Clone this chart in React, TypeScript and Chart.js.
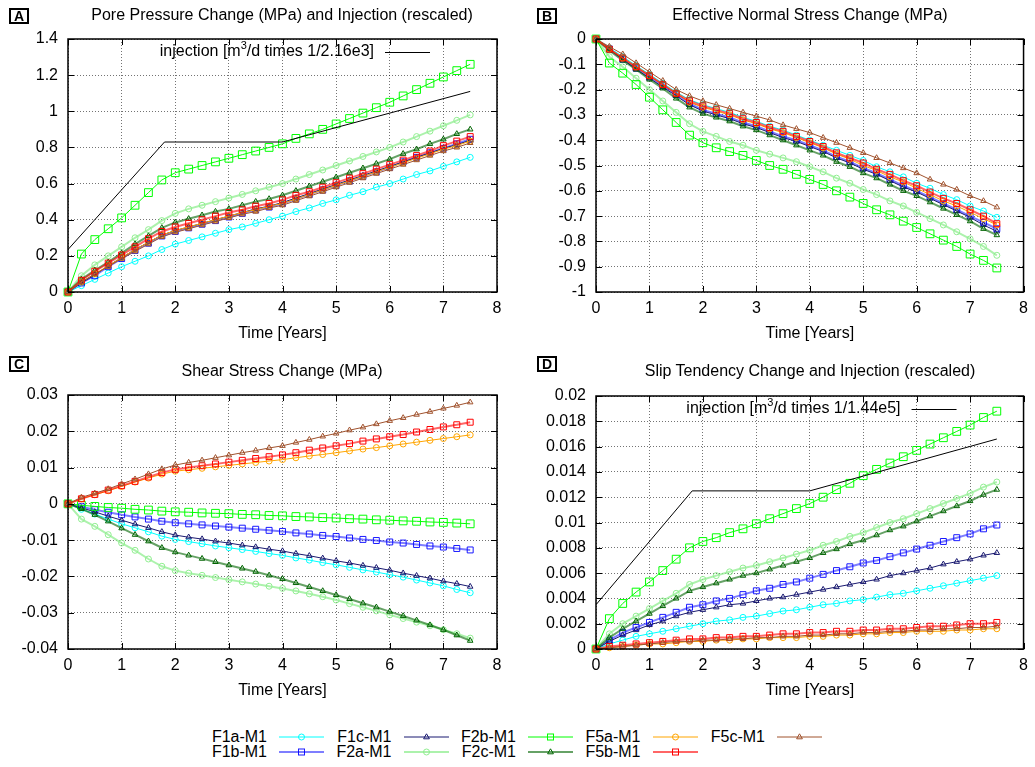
import React, { useEffect, useRef } from "react";
import { Chart, registerables } from "chart.js";

Chart.register(...registerables);

const FONT = "'Liberation Sans', Arial, Helvetica, sans-serif";
const GRID = "rgba(0,0,0,0.55)";

// ---------- data ----------
const years = [0, 0.25, 0.5, 0.75, 1, 1.25, 1.5, 1.75, 2, 2.25, 2.5, 2.75, 3, 3.25, 3.5, 3.75, 4, 4.25, 4.5, 4.75, 5, 5.25, 5.5, 5.75, 6, 6.25, 6.5, 6.75, 7, 7.25, 7.5];
const xTicks = [0, 1, 2, 3, 4, 5, 6, 7, 8];

const faultNames = ["F1a-M1", "F1b-M1", "F1c-M1", "F2a-M1", "F2b-M1", "F2c-M1", "F5a-M1", "F5b-M1", "F5c-M1"];

const injYears = [0, 1.8, 4, 7.5];
const injPore = [0.235, 0.83, 0.83, 1.11];
const injSlip = [0.0035, 0.0125, 0.0125, 0.0166];

// A: Pore pressure change (MPa)
const yTicksPore = [0, 0.2, 0.4, 0.6, 0.8, 1, 1.2, 1.4];
const pore_F1a = [0, 0.035, 0.07, 0.105, 0.14, 0.17, 0.2, 0.235, 0.265, 0.285, 0.305, 0.325, 0.345, 0.36, 0.38, 0.4, 0.42, 0.445, 0.465, 0.49, 0.51, 0.535, 0.555, 0.58, 0.6, 0.625, 0.65, 0.67, 0.695, 0.72, 0.745];
const pore_F1b = [0, 0.05, 0.09, 0.14, 0.185, 0.23, 0.27, 0.31, 0.335, 0.355, 0.375, 0.395, 0.415, 0.435, 0.455, 0.47, 0.49, 0.515, 0.54, 0.565, 0.59, 0.615, 0.64, 0.665, 0.69, 0.72, 0.745, 0.77, 0.795, 0.82, 0.845];
const pore_F1c = [0, 0.05, 0.095, 0.145, 0.19, 0.235, 0.275, 0.315, 0.34, 0.36, 0.38, 0.4, 0.42, 0.44, 0.46, 0.475, 0.495, 0.52, 0.545, 0.57, 0.595, 0.62, 0.645, 0.67, 0.695, 0.72, 0.745, 0.77, 0.795, 0.815, 0.84];
const pore_F2a = [0, 0.09, 0.15, 0.2, 0.25, 0.3, 0.345, 0.395, 0.435, 0.46, 0.48, 0.5, 0.52, 0.54, 0.56, 0.58, 0.6, 0.625, 0.65, 0.675, 0.7, 0.725, 0.75, 0.775, 0.8, 0.83, 0.86, 0.89, 0.92, 0.95, 0.98];
const pore_F2b = [0, 0.21, 0.29, 0.35, 0.41, 0.48, 0.55, 0.62, 0.66, 0.68, 0.7, 0.72, 0.74, 0.76, 0.78, 0.8, 0.82, 0.85, 0.875, 0.9, 0.93, 0.96, 0.99, 1.02, 1.05, 1.085, 1.12, 1.155, 1.19, 1.225, 1.26];
const pore_F2c = [0, 0.07, 0.12, 0.165, 0.215, 0.265, 0.31, 0.355, 0.385, 0.405, 0.425, 0.445, 0.46, 0.48, 0.5, 0.515, 0.535, 0.56, 0.585, 0.61, 0.635, 0.66, 0.685, 0.71, 0.735, 0.765, 0.79, 0.82, 0.845, 0.875, 0.9];
const pore_F5a = [0, 0.055, 0.1, 0.145, 0.19, 0.235, 0.275, 0.315, 0.34, 0.36, 0.38, 0.4, 0.42, 0.44, 0.455, 0.475, 0.49, 0.515, 0.54, 0.565, 0.59, 0.615, 0.64, 0.665, 0.69, 0.715, 0.74, 0.765, 0.79, 0.81, 0.835];
const pore_F5b = [0, 0.065, 0.115, 0.16, 0.205, 0.25, 0.295, 0.335, 0.36, 0.38, 0.4, 0.42, 0.44, 0.455, 0.475, 0.49, 0.51, 0.535, 0.555, 0.58, 0.605, 0.63, 0.655, 0.68, 0.705, 0.73, 0.755, 0.78, 0.81, 0.835, 0.86];
const pore_F5c = [0, 0.055, 0.1, 0.14, 0.185, 0.225, 0.265, 0.305, 0.33, 0.35, 0.37, 0.39, 0.41, 0.43, 0.445, 0.465, 0.48, 0.505, 0.53, 0.555, 0.58, 0.605, 0.63, 0.655, 0.68, 0.705, 0.73, 0.755, 0.78, 0.8, 0.825];

// B: Effective normal stress change (MPa)
const yTicksNormal = [-1, -0.9, -0.8, -0.7, -0.6, -0.5, -0.4, -0.3, -0.2, -0.1, 0];
const norm_F1a = [0, -0.035, -0.07, -0.105, -0.14, -0.175, -0.21, -0.24, -0.26, -0.275, -0.29, -0.31, -0.325, -0.345, -0.36, -0.38, -0.4, -0.42, -0.44, -0.46, -0.48, -0.505, -0.525, -0.545, -0.57, -0.59, -0.615, -0.635, -0.66, -0.68, -0.705];
const norm_F1b = [0, -0.04, -0.08, -0.115, -0.15, -0.185, -0.22, -0.255, -0.28, -0.295, -0.31, -0.33, -0.345, -0.365, -0.385, -0.4, -0.42, -0.44, -0.465, -0.485, -0.51, -0.53, -0.555, -0.58, -0.6, -0.625, -0.65, -0.675, -0.7, -0.725, -0.75];
const norm_F1c = [0, -0.04, -0.08, -0.12, -0.155, -0.19, -0.225, -0.26, -0.285, -0.3, -0.315, -0.335, -0.35, -0.37, -0.39, -0.405, -0.425, -0.445, -0.47, -0.49, -0.515, -0.535, -0.56, -0.585, -0.605, -0.63, -0.655, -0.68, -0.705, -0.735, -0.76];
const norm_F2a = [0, -0.07, -0.11, -0.155, -0.2, -0.245, -0.29, -0.335, -0.365, -0.385, -0.405, -0.42, -0.44, -0.455, -0.47, -0.485, -0.505, -0.525, -0.55, -0.57, -0.595, -0.615, -0.64, -0.66, -0.685, -0.71, -0.735, -0.762, -0.79, -0.82, -0.855];
const norm_F2b = [0, -0.095, -0.135, -0.18, -0.23, -0.28, -0.33, -0.38, -0.41, -0.43, -0.445, -0.46, -0.48, -0.5, -0.515, -0.535, -0.555, -0.575, -0.6, -0.625, -0.65, -0.675, -0.695, -0.72, -0.745, -0.77, -0.795, -0.82, -0.85, -0.875, -0.905];
const norm_F2c = [0, -0.045, -0.085, -0.12, -0.16, -0.195, -0.235, -0.27, -0.295, -0.31, -0.325, -0.345, -0.36, -0.38, -0.4, -0.42, -0.44, -0.46, -0.485, -0.505, -0.53, -0.55, -0.575, -0.6, -0.62, -0.645, -0.67, -0.695, -0.72, -0.75, -0.775];
const norm_F5a = [0, -0.04, -0.075, -0.11, -0.145, -0.18, -0.215, -0.25, -0.27, -0.285, -0.3, -0.32, -0.335, -0.355, -0.37, -0.39, -0.41, -0.43, -0.455, -0.475, -0.5, -0.52, -0.545, -0.565, -0.59, -0.615, -0.64, -0.66, -0.685, -0.71, -0.735];
const norm_F5b = [0, -0.04, -0.075, -0.11, -0.145, -0.18, -0.215, -0.245, -0.265, -0.28, -0.295, -0.315, -0.33, -0.35, -0.365, -0.385, -0.405, -0.425, -0.45, -0.47, -0.49, -0.515, -0.535, -0.56, -0.58, -0.605, -0.63, -0.65, -0.675, -0.7, -0.73];
const norm_F5c = [0, -0.03, -0.06, -0.095, -0.13, -0.165, -0.2, -0.225, -0.245, -0.26, -0.275, -0.29, -0.305, -0.32, -0.34, -0.355, -0.37, -0.39, -0.41, -0.43, -0.45, -0.47, -0.49, -0.51, -0.53, -0.555, -0.575, -0.595, -0.62, -0.64, -0.665];

// C: Shear stress change (MPa)
const yTicksShear = [-0.04, -0.03, -0.02, -0.01, 0, 0.01, 0.02, 0.03];
const shear_F1a = [0, -0.0015, -0.0028, -0.0042, -0.0055, -0.0066, -0.0077, -0.0089, -0.0098, -0.0104, -0.011, -0.0116, -0.0121, -0.0126, -0.0131, -0.0137, -0.0142, -0.0149, -0.0155, -0.0162, -0.0168, -0.0175, -0.0182, -0.0188, -0.0195, -0.0202, -0.021, -0.0218, -0.0226, -0.0236, -0.0245];
const shear_F1b = [0, -0.0008, -0.0016, -0.0023, -0.003, -0.0036, -0.0042, -0.0048, -0.0052, -0.0055, -0.0058, -0.0061, -0.0064, -0.0067, -0.007, -0.0073, -0.0076, -0.008, -0.0083, -0.0087, -0.009, -0.0094, -0.0098, -0.0101, -0.0105, -0.0108, -0.0112, -0.0116, -0.0119, -0.0123, -0.0127];
const shear_F1c = [0, -0.0011, -0.0022, -0.0034, -0.0045, -0.0056, -0.0066, -0.0077, -0.0086, -0.0092, -0.0097, -0.0103, -0.0108, -0.0114, -0.0119, -0.0125, -0.013, -0.0137, -0.0143, -0.015, -0.0157, -0.0163, -0.017, -0.0176, -0.0183, -0.0191, -0.0198, -0.0205, -0.0213, -0.022, -0.0228];
const shear_F2a = [0, -0.0042, -0.0062, -0.0085, -0.0108, -0.0128, -0.0152, -0.0172, -0.0184, -0.0191, -0.0197, -0.0203, -0.0209, -0.0215, -0.0221, -0.0227, -0.0233, -0.024, -0.0248, -0.0256, -0.0265, -0.0275, -0.0285, -0.0295, -0.0306, -0.0316, -0.0326, -0.0336, -0.0347, -0.0358, -0.037];
const shear_F2b = [0, -0.0004, -0.0007, -0.001, -0.0012, -0.0015, -0.0017, -0.002, -0.0022, -0.0023, -0.0025, -0.0026, -0.0027, -0.0029, -0.003, -0.0032, -0.0033, -0.0035, -0.0036, -0.0038, -0.0039, -0.0041, -0.0042, -0.0044, -0.0045, -0.0047, -0.0048, -0.005, -0.0051, -0.0053, -0.0055];
const shear_F2c = [0, -0.0014, -0.003, -0.0048, -0.0067, -0.0085, -0.0103, -0.0121, -0.0133, -0.0142, -0.0151, -0.016, -0.0169, -0.0178, -0.0187, -0.0197, -0.0207, -0.0218, -0.0229, -0.024, -0.0251, -0.0262, -0.0274, -0.0285, -0.0297, -0.0309, -0.0321, -0.0334, -0.0347, -0.0362, -0.0377];
const shear_F5a = [0, 0.0014, 0.0025, 0.0036, 0.0048, 0.006, 0.0071, 0.0082, 0.009, 0.0094, 0.0098, 0.0102, 0.0106, 0.011, 0.0114, 0.0118, 0.0122, 0.0127, 0.0132, 0.0136, 0.0141, 0.0146, 0.0151, 0.0155, 0.016, 0.0165, 0.017, 0.0175, 0.018, 0.0185, 0.019];
const shear_F5b = [0, 0.0014, 0.0026, 0.0038, 0.005, 0.0062, 0.0074, 0.0086, 0.0095, 0.01, 0.0105, 0.011, 0.0115, 0.012, 0.0125, 0.013, 0.0135, 0.0141, 0.0148, 0.0154, 0.016, 0.0166, 0.0173, 0.0179, 0.0185, 0.0191, 0.0198, 0.0205, 0.0212, 0.0218, 0.0225];
const shear_F5c = [0, 0.0018, 0.0029, 0.0041, 0.0055, 0.0068, 0.0082, 0.0096, 0.0107, 0.0114, 0.012, 0.0127, 0.0134, 0.0141, 0.0147, 0.0154, 0.016, 0.0169, 0.0177, 0.0186, 0.0194, 0.0203, 0.0211, 0.022, 0.0229, 0.0237, 0.0246, 0.0254, 0.0263, 0.0271, 0.028];

// D: Slip tendency change
const yTicksSlip = [0, 0.002, 0.004, 0.006, 0.008, 0.01, 0.012, 0.014, 0.016, 0.018, 0.02];
const slip_F1a = [0, 0.0004, 0.0007, 0.001, 0.0012, 0.0014, 0.0016, 0.0018, 0.002, 0.0022, 0.0023, 0.0025, 0.0026, 0.0028, 0.003, 0.0031, 0.0033, 0.0035, 0.0036, 0.0038, 0.0039, 0.0041, 0.0043, 0.0044, 0.0046, 0.0048, 0.005, 0.0052, 0.0054, 0.0056, 0.0058];
const slip_F1b = [0, 0.0007, 0.0013, 0.0017, 0.0021, 0.0025, 0.0029, 0.0033, 0.0035, 0.0038, 0.004, 0.0043, 0.0046, 0.0048, 0.0051, 0.0053, 0.0056, 0.0059, 0.0062, 0.0065, 0.0068, 0.007, 0.0073, 0.0076, 0.0079, 0.0082, 0.0085, 0.0088, 0.0091, 0.0095, 0.0098];
const slip_F1c = [0, 0.0006, 0.0011, 0.0015, 0.0019, 0.0022, 0.0026, 0.0029, 0.0031, 0.0033, 0.0035, 0.0036, 0.0038, 0.004, 0.0041, 0.0043, 0.0045, 0.0047, 0.0049, 0.0051, 0.0053, 0.0055, 0.0058, 0.006, 0.0062, 0.0064, 0.0067, 0.0069, 0.0071, 0.0074, 0.0076];
const slip_F2a = [0, 0.0012, 0.002, 0.0026, 0.0032, 0.0038, 0.0044, 0.0051, 0.0055, 0.0058, 0.0061, 0.0064, 0.0066, 0.0069, 0.0072, 0.0075, 0.0078, 0.0082, 0.0085, 0.0089, 0.0092, 0.0096, 0.01, 0.0103, 0.0107, 0.0111, 0.0115, 0.0119, 0.0123, 0.0128, 0.0132];
const slip_F2b = [0, 0.0024, 0.0036, 0.0045, 0.0053, 0.0062, 0.0071, 0.008, 0.0085, 0.0088, 0.0092, 0.0095, 0.0099, 0.0103, 0.0107, 0.0111, 0.0115, 0.012, 0.0126, 0.0131, 0.0137, 0.0142, 0.0147, 0.0152, 0.0157, 0.0162, 0.0167, 0.0172, 0.0177, 0.0183, 0.0188];
const slip_F2c = [0, 0.0009, 0.0016, 0.0022, 0.0028, 0.0034, 0.004, 0.0046, 0.0049, 0.0052, 0.0055, 0.0058, 0.006, 0.0063, 0.0066, 0.0069, 0.0072, 0.0076, 0.0079, 0.0083, 0.0086, 0.009, 0.0094, 0.0097, 0.0101, 0.0105, 0.0109, 0.0113, 0.0117, 0.0122, 0.0126];
const slip_F5a = [0, 0.0001, 0.0002, 0.0003, 0.0004, 0.0004, 0.0005, 0.0006, 0.0006, 0.0007, 0.0007, 0.0008, 0.0008, 0.0009, 0.0009, 0.0009, 0.001, 0.001, 0.0011, 0.0011, 0.0012, 0.0012, 0.0013, 0.0013, 0.0014, 0.0014, 0.0014, 0.0015, 0.0015, 0.0016, 0.0016];
const slip_F5b = [0, 0.0002, 0.0003, 0.0004, 0.0005, 0.0006, 0.0007, 0.0008, 0.0008, 0.0009, 0.0009, 0.001, 0.001, 0.0011, 0.0012, 0.0012, 0.0013, 0.0013, 0.0014, 0.0014, 0.0015, 0.0015, 0.0016, 0.0016, 0.0017, 0.0018, 0.0018, 0.0019, 0.002, 0.002, 0.0021];
const slip_F5c = [0, 0.0001, 0.0002, 0.0003, 0.0004, 0.0005, 0.0006, 0.0006, 0.0007, 0.0007, 0.0008, 0.0008, 0.0009, 0.0009, 0.001, 0.001, 0.0011, 0.0011, 0.0012, 0.0012, 0.0013, 0.0013, 0.0014, 0.0014, 0.0015, 0.0015, 0.0016, 0.0016, 0.0017, 0.0017, 0.0018];

const poreSeries = [pore_F1a, pore_F1b, pore_F1c, pore_F2a, pore_F2b, pore_F2c, pore_F5a, pore_F5b, pore_F5c];
const normSeries = [norm_F1a, norm_F1b, norm_F1c, norm_F2a, norm_F2b, norm_F2c, norm_F5a, norm_F5b, norm_F5c];
const shearSeries = [shear_F1a, shear_F1b, shear_F1c, shear_F2a, shear_F2b, shear_F2c, shear_F5a, shear_F5b, shear_F5c];
const slipSeries = [slip_F1a, slip_F1b, slip_F1c, slip_F2a, slip_F2b, slip_F2c, slip_F5a, slip_F5b, slip_F5c];

// ---------- styles ----------
type Style = { color: string; line: string; lineWidth: number; point: string; radius: number };
const styles: Style[] = [
  { color: "#00ffff", line: "#00ffff", lineWidth: 1, point: "circle", radius: 3 },
  { color: "rgba(0,0,255,0.9)", line: "rgba(40,40,255,0.6)", lineWidth: 2, point: "rect", radius: 4.2 },
  { color: "#191970", line: "#191970", lineWidth: 1, point: "triangle", radius: 3.2 },
  { color: "#90ee90", line: "rgba(144,238,144,0.75)", lineWidth: 2, point: "circle", radius: 3 },
  { color: "#00ff00", line: "#00ff00", lineWidth: 1, point: "rect", radius: 5.5 },
  { color: "#006400", line: "rgba(0,100,0,0.6)", lineWidth: 2, point: "triangle", radius: 3.2 },
  { color: "#ffa500", line: "#ffa500", lineWidth: 1, point: "circle", radius: 3 },
  { color: "#ff0000", line: "rgba(255,0,0,0.6)", lineWidth: 2, point: "rect", radius: 4.2 },
  { color: "#a0522d", line: "#a0522d", lineWidth: 1, point: "triangle", radius: 3.2 },
];

// ---------- plugins ----------
const framePlugin = {
  id: "frame",
  afterDraw(chart: any) {
    const { ctx, chartArea: a, scales } = chart;
    ctx.save();
    ctx.strokeStyle = "#000";
    ctx.lineWidth = 1;
    ctx.beginPath();
    for (const t of scales.x.ticks) {
      const px = Math.round(scales.x.getPixelForValue(t.value)) + 0.5;
      ctx.moveTo(px, a.bottom);
      ctx.lineTo(px, a.bottom - 6);
      ctx.moveTo(px, a.top);
      ctx.lineTo(px, a.top + 6);
    }
    for (const t of scales.y.ticks) {
      const py = Math.round(scales.y.getPixelForValue(t.value)) + 0.5;
      ctx.moveTo(a.left, py);
      ctx.lineTo(a.left + 6, py);
      ctx.moveTo(a.right, py);
      ctx.lineTo(a.right - 6, py);
    }
    ctx.stroke();
    ctx.lineWidth = 1.5;
    ctx.strokeRect(a.left, a.top, a.right - a.left, a.bottom - a.top);
    ctx.restore();
  },
};

function makeInjLegend(parts: string[]) {
  return {
    id: "injLegend",
    afterDraw(chart: any) {
      const { ctx, chartArea: a } = chart;
      const y = a.top + 13;
      const xEnd = a.right - 123;
      ctx.save();
      ctx.fillStyle = "#000";
      ctx.textBaseline = "middle";
      ctx.textAlign = "left";
      ctx.font = `16px ${FONT}`;
      const w1 = ctx.measureText(parts[0]).width;
      const w3 = ctx.measureText(parts[2]).width;
      ctx.font = `11px ${FONT}`;
      const w2 = ctx.measureText(parts[1]).width;
      let x = xEnd - (w1 + w2 + w3);
      ctx.font = `16px ${FONT}`;
      ctx.fillText(parts[0], x, y);
      x += w1;
      ctx.font = `11px ${FONT}`;
      ctx.fillText(parts[1], x, y - 6);
      x += w2;
      ctx.font = `16px ${FONT}`;
      ctx.fillText(parts[2], x, y);
      ctx.strokeStyle = "#000";
      ctx.lineWidth = 1;
      ctx.beginPath();
      ctx.moveTo(a.right - 112, Math.round(y) + 0.5);
      ctx.lineTo(a.right - 67, Math.round(y) + 0.5);
      ctx.stroke();
      ctx.restore();
    },
  };
}

// ---------- panel ----------
type PanelProps = {
  left: number;
  top: number;
  width: number;
  height: number;
  yAxisWidth: number;
  padTop: number;
  padRight: number;
  padBottom: number;
  yMin: number;
  yMax: number;
  yTicks: number[];
  series: number[][];
  injection?: number[];
  injParts?: string[];
};

function Panel(p: PanelProps) {
  const ref = useRef<HTMLCanvasElement | null>(null);
  useEffect(() => {
    if (!ref.current) return;
    const datasets: any[] = p.series.map((vals, i) => ({
      label: faultNames[i],
      data: years.map((t, j) => ({ x: t, y: vals[j] })),
      borderColor: styles[i].line,
      borderWidth: styles[i].lineWidth,
      pointStyle: styles[i].point,
      pointRadius: styles[i].radius,
      pointBorderColor: styles[i].color,
      pointBackgroundColor: "rgba(0,0,0,0)",
      pointBorderWidth: 1,
      fill: false,
      tension: 0,
      clip: false,
      order: 20 - i,
    }));
    if (p.injection) {
      datasets.push({
        label: "injection",
        data: injYears.map((t, j) => ({ x: t, y: p.injection![j] })),
        borderColor: "#000",
        borderWidth: 1,
        pointRadius: 0,
        fill: false,
        tension: 0,
        order: 0,
      });
    }
    const tickFont = { size: 16, family: FONT };
    const plugins: any[] = [framePlugin];
    if (p.injParts) plugins.push(makeInjLegend(p.injParts));
    const chart = new Chart(ref.current, {
      type: "line",
      data: { datasets },
      options: {
        animation: false,
        responsive: false,
        events: [],
        layout: { padding: { left: 0, top: p.padTop, right: p.padRight, bottom: p.padBottom } },
        plugins: { legend: { display: false }, tooltip: { enabled: false }, title: { display: false } },
        scales: {
          x: {
            type: "linear",
            min: 0,
            max: 8,
            afterBuildTicks: (s: any) => {
              s.ticks = xTicks.map((v) => ({ value: v }));
            },
            afterFit: (s: any) => {
              s.height = 51;
            },
            ticks: { padding: 7, color: "#000", font: tickFont, autoSkip: false, maxRotation: 0, callback: (v: any) => String(v) },
            grid: { color: GRID, lineWidth: 1, drawTicks: false },
            border: { display: false, dash: [1, 2] },
            title: { display: true, text: "Time [Years]", color: "#000", font: tickFont, padding: 0 },
          },
          y: {
            type: "linear",
            min: p.yMin,
            max: p.yMax,
            afterBuildTicks: (s: any) => {
              s.ticks = p.yTicks.map((v) => ({ value: v }));
            },
            afterFit: (s: any) => {
              s.width = p.yAxisWidth;
            },
            ticks: { padding: 10, color: "#000", font: tickFont, autoSkip: false, callback: (v: any) => String(v) },
            grid: { color: GRID, lineWidth: 1, drawTicks: false },
            border: { display: false, dash: [1, 2] },
          },
        },
      } as any,
      plugins,
    });
    return () => chart.destroy();
  }, []);
  return (
    <canvas
      ref={ref}
      width={p.width}
      height={p.height}
      style={{ position: "absolute", left: p.left, top: p.top, width: p.width, height: p.height }}
    />
  );
}

function Title({ cx, cy, text }: { cx: number; cy: number; text: string }) {
  return (
    <div
      style={{
        position: "absolute",
        left: cx - 300,
        width: 600,
        top: cy - 10,
        height: 20,
        lineHeight: "20px",
        textAlign: "center",
        fontSize: 16,
        color: "#000",
        whiteSpace: "nowrap",
      }}
    >
      {text}
    </div>
  );
}

function Letter({ x, y, text }: { x: number; y: number; text: string }) {
  return (
    <div
      style={{
        position: "absolute",
        left: x,
        top: y,
        width: 16,
        height: 12,
        border: "2px solid #000",
        fontSize: 14,
        fontWeight: "bold",
        lineHeight: "12px",
        textAlign: "center",
        color: "#000",
      }}
    >
      {text}
    </div>
  );
}

function Marker({ s }: { s: Style }) {
  const cx = 22.5;
  const cy = 6;
  let shape: any = null;
  if (s.point === "circle") shape = <circle cx={cx} cy={cy} r={3} fill="none" stroke={s.color} strokeWidth={1} />;
  else if (s.point === "rect") shape = <rect x={cx - 3} y={cy - 3} width={6} height={6} fill="none" stroke={s.color} strokeWidth={1} />;
  else shape = <polygon points={`${cx},${cy - 3.2} ${cx + 2.9},${cy + 1.8} ${cx - 2.9},${cy + 1.8}`} fill="none" stroke={s.color} strokeWidth={1} />;
  return (
    <svg width={45} height={12} style={{ position: "absolute", left: 0, top: 0, overflow: "visible" }}>
      <line x1={0} y1={cy} x2={45} y2={cy} stroke={s.line} strokeWidth={s.lineWidth} />
      {shape}
    </svg>
  );
}

const legendRows = [737, 752];
const legendLineStarts = [279, 403.5, 528, 652.5, 777];

function Legend() {
  return (
    <>
      {faultNames.map((name, i) => {
        const col = Math.floor(i / 2);
        const row = i % 2;
        const lx = legendLineStarts[col];
        const cy = legendRows[row];
        return (
          <React.Fragment key={name}>
            <div
              style={{
                position: "absolute",
                left: lx - 12 - 120,
                width: 120,
                top: cy - 10,
                height: 20,
                lineHeight: "20px",
                textAlign: "right",
                fontSize: 16,
                color: "#000",
              }}
            >
              {name}
            </div>
            <div style={{ position: "absolute", left: lx, top: cy - 6, width: 45, height: 12 }}>
              <Marker s={styles[i]} />
            </div>
          </React.Fragment>
        );
      })}
    </>
  );
}

export default function App() {
  return (
    <div
      style={{
        position: "absolute",
        left: 0,
        top: 0,
        width: 1035,
        height: 767,
        background: "#fff",
        fontFamily: FONT,
        overflow: "hidden",
      }}
    >
      <Panel left={0} top={0} width={517} height={345} yAxisWidth={68} padTop={39} padRight={20} padBottom={2}
        yMin={0} yMax={1.4} yTicks={yTicksPore} series={poreSeries} injection={injPore}
        injParts={["injection [m", "3", "/d times 1/2.16e3]"]} />
      <Panel left={520} top={0} width={515} height={345} yAxisWidth={76} padTop={39} padRight={10} padBottom={2}
        yMin={-1} yMax={0} yTicks={yTicksNormal} series={normSeries} />
      <Panel left={0} top={345} width={517} height={360} yAxisWidth={68} padTop={50} padRight={20} padBottom={5}
        yMin={-0.04} yMax={0.03} yTicks={yTicksShear} series={shearSeries} />
      <Panel left={520} top={345} width={515} height={360} yAxisWidth={76} padTop={51} padRight={10} padBottom={5}
        yMin={0} yMax={0.02} yTicks={yTicksSlip} series={slipSeries} injection={injSlip}
        injParts={["injection [m", "3", "/d times 1/1.44e5]"]} />

      <Title cx={282} cy={15} text="Pore Pressure Change (MPa) and Injection (rescaled)" />
      <Title cx={810} cy={15} text="Effective Normal Stress Change (MPa)" />
      <Title cx={282} cy={371} text="Shear Stress Change (MPa)" />
      <Title cx={810} cy={371} text="Slip Tendency Change and Injection (rescaled)" />

      <Letter x={9} y={8} text="A" />
      <Letter x={537} y={8} text="B" />
      <Letter x={9} y={356} text="C" />
      <Letter x={537} y={356} text="D" />

      <Legend />
    </div>
  );
}
